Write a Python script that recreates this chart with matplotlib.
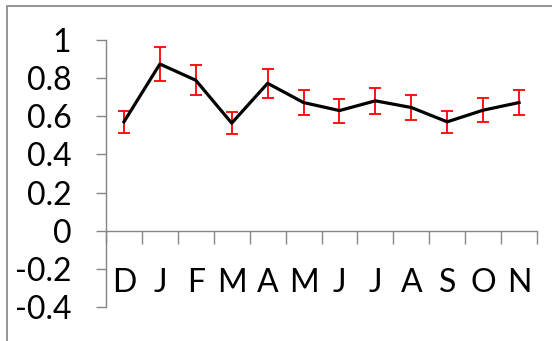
import matplotlib.pyplot as plt
from matplotlib.patches import Rectangle

months = ["D", "J", "F", "M", "A", "M", "J", "J", "A", "S", "O", "N"]
values = [0.571, 0.874, 0.789, 0.564, 0.773, 0.672, 0.630, 0.681, 0.646, 0.571, 0.632, 0.672]
errors = [0.057, 0.087, 0.079, 0.056, 0.077, 0.067, 0.063, 0.068, 0.065, 0.057, 0.063, 0.067]
yticks = [-0.4, -0.2, 0, 0.2, 0.4, 0.6, 0.8, 1]
ylabels = ["-0.4", "-0.2", "0", "0.2", "0.4", "0.6", "0.8", "1"]

plt.rcParams['font.family'] = ['Lato', 'DejaVu Sans']
W, H = 552, 341
fig = plt.figure(figsize=(W / 100, H / 100), dpi=100)
grey = "#868686"

# outer chart border (only left and top visible)
fig.add_artist(Rectangle((7 / W, -0.1), 1.2, 1.1 - 6 / H, transform=fig.transFigure,
                         fill=False, edgecolor="#8c8c8c", lw=1.3))

ax = fig.add_axes([106 / W, 34 / H, 431 / W, 267 / H])
x = range(len(months))
ax.errorbar(x, values, yerr=errors, color="black", lw=2.3,
            ecolor="red", elinewidth=1.3, capsize=4.5, capthick=1.3, zorder=3)

ax.set_xlim(-0.5, len(months) - 0.5)
ax.set_ylim(-0.4, 1)
ax.set_yticks(yticks, ylabels)
ax.set_xticks(list(x), months)
ax.set_xticks([i - 0.5 for i in range(len(months) + 1)], minor=True)

for s in ["top", "right"]:
    ax.spines[s].set_visible(False)
ax.spines["bottom"].set_position(("data", 0))
for s in ["left", "bottom"]:
    ax.spines[s].set_color(grey)
    ax.spines[s].set_linewidth(1)

ax.tick_params(axis="y", direction="out", length=7, width=1, color=grey,
               labelsize=23, pad=18)
ax.tick_params(axis="x", which="major", length=0, labelsize=23, pad=27)
ax.tick_params(axis="x", which="minor", direction="out", length=9.5, width=1, color=grey)

fig.savefig("out.png", dpi=100)
